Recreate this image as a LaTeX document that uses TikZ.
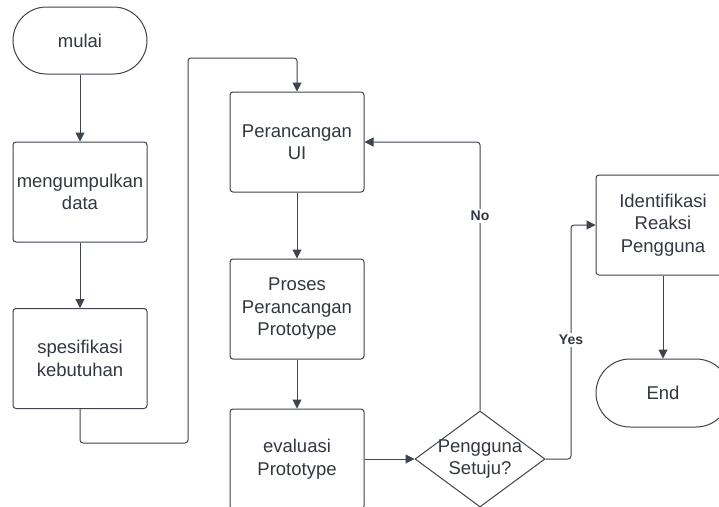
\documentclass[tikz,border=0pt]{standalone}
\usepackage{fontspec}
\setmainfont{Liberation Sans}
\usetikzlibrary{shapes.misc,shapes.geometric,arrows.meta}
\definecolor{ln}{RGB}{62,67,76}
\definecolor{tx}{RGB}{51,56,64}
\begin{document}
\begin{tikzpicture}[x=1pt,y=-1pt,
  txt/.style={text=tx, align=center, font=\fontsize{18.5}{22.5}\selectfont},
  box/.style={txt, draw=ln, line width=1pt, rounded corners=3pt, minimum width=134pt, minimum height=100pt, inner sep=0pt},
  term/.style={txt, draw=ln, line width=1pt, rounded rectangle, minimum width=134pt, minimum height=67pt, inner sep=0pt},
  arr/.style={draw=ln, line width=1pt, rounded corners=3pt, -{Triangle[length=9pt,width=9pt]}},
  lbl/.style={fill=white, text=tx, font=\bfseries\fontsize{14}{16}\selectfont, inner sep=2pt}]
\useasboundingbox (0,0) rectangle (719,506);
\clip (0,0) rectangle (719,506);
\fill[white] (0,0) rectangle (719,506);

\node[term] (mulai) at (80,40.5) {mulai};
\node[box] (data) at (80,192) {mengumpulkan\\data};
\node[box] (spek) at (80,358.5) {spesifikasi\\kebutuhan};
\node[box] (ui) at (297,142) {Perancangan\\UI};
\node[box] (proses) at (297,309) {Proses\\Perancangan\\Prototype};
\node[box] (eval) at (297,459) {evaluasi\\Prototype};
\node[diamond, draw=ln, line width=1pt, minimum width=130pt, minimum height=96pt, inner sep=0pt] (dec) at (480,459) {};
\node[txt] (dectext) at (dec.center) {Pengguna\\Setuju?};
\node[box] (ident) at (663,225) {Identifikasi\\Reaksi\\Pengguna};
\node[term, minimum height=68pt] (end) at (663,393) {End};

\coordinate (c1) at (188,443);
\coordinate (c2) at (188,58);
\coordinate (y1) at (571,459);

\draw[arr] (mulai) -- (data);
\draw[arr] (data) -- (spek);
\draw[arr] (spek.south) |- (c1) -- (c2) -| (ui.north);
\draw[arr] (ui) -- (proses);
\draw[arr] (proses) -- (eval);
\draw[arr] (eval.east) -- (dec.west);
\draw[arr] (dec.north) |- (ui.east);
\draw[arr] (dec.east) -- (y1) |- (ident.west);
\draw[arr] (ident) -- (end);

\node[lbl] (no) at (480,216) {No};
\node[lbl] (yes) at (571,340) {Yes};
\end{tikzpicture}
\end{document}
